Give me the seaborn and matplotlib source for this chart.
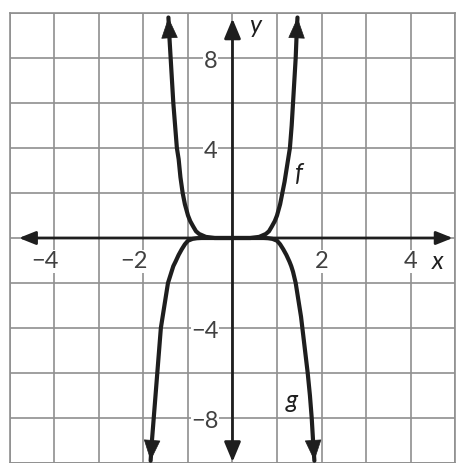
import numpy as np
import pandas as pd
import matplotlib
matplotlib.use("Agg")
import matplotlib.pyplot as plt
import seaborn as sns

# points (x, y) for the two curves
f_x = [-1.44, -1.42, -1.39, -1.36, -1.33, -1.29, -1.25, -1.21, -1.17, -1.12, -1.07, -1.0,
       -0.95, -0.88, -0.82, -0.75, -0.6, -0.4,
       0.0, 0.4, 0.6, 0.75, 0.82, 0.88, 0.95, 1.0, 1.07, 1.12, 1.17, 1.21, 1.25, 1.29,
       1.33, 1.36, 1.39, 1.42, 1.44, 1.46]
f_y = [9.8, 9.0, 8.0, 7.0, 6.0, 5.0, 4.0, 3.5, 2.7, 2.0, 1.5, 1.0,
       0.75, 0.5, 0.3, 0.18, 0.05, 0.0,
       0.0, 0.0, 0.05, 0.18, 0.3, 0.5, 0.75, 1.0, 1.5, 2.0, 2.5, 3.0, 3.5, 4.0,
       5.0, 6.0, 7.0, 8.0, 9.0, 9.8]

g_x = [-1.84, -1.81, -1.77, -1.73, -1.69, -1.65, -1.61, -1.57, -1.53, -1.49, -1.45,
       -1.41, -1.37, -1.33, -1.28, -1.21, -1.14, -1.07, -1.0, -0.9, -0.8, -0.7,
       0.0, 0.7, 0.8, 0.9, 1.0, 1.07, 1.14, 1.21, 1.28, 1.32, 1.36, 1.42, 1.46, 1.5,
       1.54, 1.57, 1.63, 1.66, 1.69, 1.74, 1.78, 1.81, 1.84]
g_y = [-9.9, -9.0, -8.0, -7.0, -6.0, -5.0, -4.0, -3.5, -3.0, -2.5, -2.0,
       -1.75, -1.5, -1.25, -1.05, -0.75, -0.5, -0.28, -0.12, -0.04, -0.01, 0.0,
       0.0, 0.0, -0.01, -0.04, -0.12, -0.28, -0.5, -0.75, -1.05, -1.25, -1.5, -2.0, -2.5, -3.0,
       -3.5, -4.0, -5.0, -5.5, -6.0, -7.0, -8.0, -9.0, -9.9]

x_ticks = [-4, -2, 2, 4]
y_ticks = [8, 4, -4, -8]

sns.set_style("whitegrid")
plt.rcParams["font.family"] = ["Lato", "DejaVu Sans"]

fig = plt.figure(figsize=(4.6, 4.63), dpi=100)
ax = fig.add_axes([10 / 460, 0.0, 445 / 460, 450 / 463])

ink = "#1e1e1e"
df_f = pd.DataFrame({"x": f_x, "y": f_y})
df_g = pd.DataFrame({"x": g_x, "y": g_y})
sns.lineplot(data=df_f, x="x", y="y", sort=False, ax=ax, color=ink, lw=3.0, zorder=4)
sns.lineplot(data=df_g, x="x", y="y", sort=False, ax=ax, color=ink, lw=3.0, zorder=4)
for ln in ax.lines:
    ln.set_solid_joinstyle("round")

# arrow heads at the curve ends
head = "-|>,head_length=0.7,head_width=0.28"
for xs, ys in [(f_x, f_y), (g_x, g_y)]:
    for i0, i1 in [(2, 0), (-3, -1)]:
        ax.annotate("", xy=(xs[i1], ys[i1]), xytext=(xs[i0], ys[i0]),
                    arrowprops=dict(arrowstyle=head, color=ink, lw=0.5,
                                    mutation_scale=20, shrinkA=0, shrinkB=0),
                    zorder=5)

# coordinate axes with arrows
ax.annotate("", xy=(-4.8, 0), xytext=(4.95, 0),
            arrowprops=dict(arrowstyle="<|-|>,head_length=0.5,head_width=0.2", color=ink,
                            lw=2.0, mutation_scale=20, shrinkA=0, shrinkB=0), zorder=3)
ax.annotate("", xy=(0, -9.95), xytext=(0, 9.75),
            arrowprops=dict(arrowstyle="<|-|>,head_length=0.6,head_width=0.25", color=ink,
                            lw=2.0, mutation_scale=20, shrinkA=0, shrinkB=0), zorder=3)

ax.set_xlim(-5, 5)
ax.set_ylim(-10, 10)
ax.set_xticks(np.arange(-5, 6, 1))
ax.set_yticks(np.arange(-10, 11, 2))
ax.set_xticklabels([])
ax.set_yticklabels([])
ax.tick_params(length=0)
ax.grid(True, color="#8f8f8f", lw=1.2)
for s in ax.spines.values():
    s.set_color("#8f8f8f")
    s.set_linewidth(1.2)
ax.set_xlabel("")
ax.set_ylabel("")

num = "#404040"
box = dict(facecolor="white", edgecolor="none", pad=0.5)
for v in x_ticks:
    lab = f"−{abs(v)}" if v < 0 else str(v)
    xx = v - 0.22 if v < 0 else v
    ax.text(xx, -1.05, lab, ha="center", va="center", fontsize=17, color=num,
            bbox=box, zorder=2)
for v in y_ticks:
    lab = f"−{abs(v)}" if v < 0 else str(v)
    xx = -0.62 if v < 0 else -0.5
    ax.text(xx, v - 0.15, lab, ha="center", va="center", fontsize=17, color=num,
            bbox=box, zorder=2)

ax.text(4.62, -1.05, "x", ha="center", va="center", fontsize=18, style="italic", color=ink)
ax.text(0.5, 9.45, "y", ha="center", va="center", fontsize=18, style="italic", color=ink)
ax.text(1.5, 2.85, "f", ha="center", va="center", fontsize=18, style="italic", color=ink,
        bbox=box, zorder=2)
ax.text(1.33, -7.2, "g", ha="center", va="center", fontsize=18, style="italic", color=ink,
        bbox=box, zorder=2)

fig.savefig("out.png", dpi=100)
